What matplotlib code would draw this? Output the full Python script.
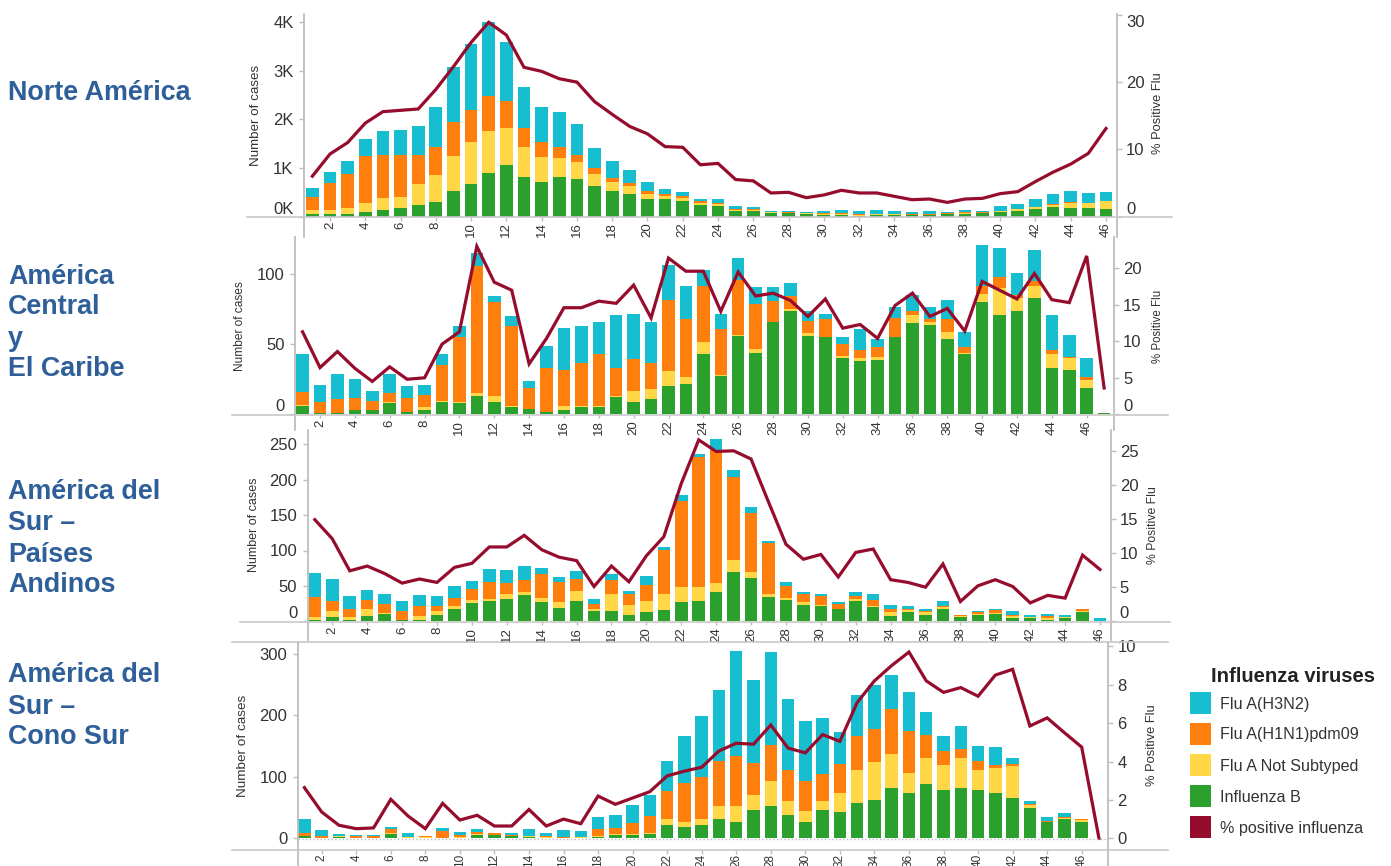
import matplotlib
matplotlib.use("Agg")
import matplotlib.pyplot as plt
import numpy as np
from matplotlib.lines import Line2D
from matplotlib.patches import Rectangle

plt.rcParams["font.family"] = ["Liberation Sans", "DejaVu Sans"]

W, H = 1391, 866

H3N2 = "#17becf"
H1N1 = "#ff7f0e"
NOT_SUB = "#ffd747"
FLU_B = "#2ca02c"
PCT = "#960c2c"
HEAD = "#2f5f98"
GRAY = "#bdbdbd"
TEXT = "#333333"

# values are read as the top of each stacked segment (cumulative from the bottom)
na_b = [.05, .05, .05, .09, .14, .18, .24, .29, .52, .67, .90, 1.05, .82, .72, .82, .77, .63, .53, .46, .36, .35, .31, .24, .21,
        .12, .12, .08, .07, .06, .03, .04, .02, .03, .04, .03, .03, .05, .05, .07, .09, .12, .16, .19, .17, .18, .16]
na_ns = [.13, .13, .17, .27, .38, .41, .67, .85, 1.25, 1.54, 1.76, 1.83, 1.43, 1.22, 1.20, 1.12, .88, .70, .63, .46, .42, .38, .28, .25,
         .13, .14, .09, .08, .07, .05, .06, .03, .05, .05, .04, .04, .06, .07, .08, .11, .15, .19, .23, .27, .27, .31]
na_h1 = [.41, .68, .88, 1.25, 1.26, 1.27, 1.27, 1.44, 1.94, 2.20, 2.48, 2.38, 1.82, 1.54, 1.44, 1.27, 1.00, .79, .68, .52, .46, .42, .31, .28,
         .15, .16, .10, .09, .08, .07, .07, .05, .06, .06, .06, .06, .07, .09, .09, .12, .16, .20, .25, .29, .28, .32]
na_h3 = [.58, .91, 1.15, 1.59, 1.75, 1.78, 1.86, 2.26, 3.07, 3.54, 4.00, 3.60, 2.67, 2.26, 2.14, 1.91, 1.40, 1.15, .95, .72, .56, .51, .36, .35,
         .22, .19, .11, .11, .10, .11, .13, .11, .13, .11, .10, .11, .09, .13, .11, .21, .25, .36, .47, .53, .49, .50]
na_pct = [6.0, 9.3, 11.0, 13.9, 15.6, 15.8, 16.0, 18.9, 22.3, 25.9, 28.9, 27.0, 22.2, 21.6, 20.5, 20.0, 17.1, 15.2, 13.4, 12.3, 10.4, 10.3, 7.7, 7.9,
          5.5, 5.3, 3.5, 3.6, 2.8, 3.2, 3.9, 3.5, 3.5, 3.0, 2.5, 2.6, 2.1, 2.6, 2.7, 3.4, 3.7, 5.2, 6.6, 7.8, 9.4, 13.1]

ca_b = [6, 1, 1, 3, 3, 8, 1.5, 3, 9, 8, 13, 9, 5, 3.5, 1.5, 3, 5, 5.5, 12.4, 9, 10.7, 20, 22, 43,
        27.6, 56, 44, 66, 74, 56, 55, 40, 38, 39, 55, 65, 64, 54, 43, 80, 71, 74, 83, 33, 32, 19, 1]
ca_ns = [7, 1, 1, 3, 3, 9, 2, 5, 9.5, 9, 15, 13, 6, 4, 2, 6, 6, 6, 13, 17, 18, 31, 27, 52,
         28, 57, 47, 66, 75, 58, 55, 42, 40, 41, 55, 71, 66, 59, 44, 86, 90, 83, 92, 43, 40.5, 24.5, 1]
ca_h1 = [16, 9, 11, 12, 9.5, 15, 12, 14, 35, 55, 106, 80, 63, 19, 33, 32, 37, 43, 33, 39.5, 37, 82, 68, 92,
         61, 96, 79, 81, 84.5, 67, 68, 50, 46, 48, 69, 74, 68, 68, 48, 92, 98, 85, 95, 46, 41, 27, 1]
ca_h3 = [43, 21, 29, 25, 17, 29, 20, 21, 43, 63, 115, 84.5, 70, 24, 49, 62, 63, 66, 71, 72, 66, 107, 92, 103,
         72, 112, 91, 91, 94, 74, 72, 55, 61, 54, 77, 85, 77, 82, 59, 121, 119, 101, 117, 71, 57, 40, 1.2]
ca_pct = [11.3, 6.4, 8.6, 6.3, 4.5, 6.5, 4.8, 5.0, 9.6, 11.3, 23, 18.1, 17, 6.9, 10.4, 14.6, 14.6, 15.5, 15.2, 17.7, 13.2, 21.4, 19.6, 19.6,
          14.1, 19.5, 16.2, 16.6, 15.6, 13.4, 15.8, 11.8, 12.3, 10.4, 14.9, 16.6, 13.4, 14.5, 11.4, 18.2, 17, 15.8, 19.3, 15.7, 15.3, 21.7, 3.6]

an_b = [2, 6, 2, 7, 11, 1.5, 2, 8.5, 18, 26, 29, 31.5, 37, 27, 19, 28, 15, 15, 9.4, 13, 16, 27, 29, 42,
        70, 61, 35, 30, 23.5, 21.7, 17, 28, 20, 7, 13, 9.4, 18, 6.6, 9.4, 11, 5, 5, 2, 5, 13.7, .5]
an_ns = [6, 14, 6, 17, 12, 2, 8, 14, 21, 30, 32, 38, 42, 33, 27, 43, 18, 39, 23, 29, 39, 49, 49, 54,
         86, 70, 38, 33, 27, 23, 18, 31.5, 21.7, 13, 16, 13, 20.7, 8, 11, 12, 7, 6, 4.2, 6, 15, .5]
an_h1 = [34, 29, 18, 30, 24, 14, 22, 22, 33, 45, 56, 54, 59, 67, 56, 60, 25, 58, 38, 51, 101, 170, 232, 242,
         204, 153, 110, 50, 38, 36, 25, 36, 30, 17, 17.4, 14.6, 22, 9, 13, 16, 9, 6, 7, 6, 17, .5]
an_h3 = [68, 60, 36, 44, 39, 29, 37, 36, 50, 57, 74, 73, 78, 75, 63, 71, 32, 67, 43, 64, 105, 178, 237, 258,
         213, 162, 113, 56, 41, 38, 27, 41, 38, 22.6, 21.7, 17, 28, 9.4, 14.6, 18, 14.6, 9.4, 10, 9.4, 18, 4]
an_pct = [14.9, 12.1, 7.4, 8.1, 7.0, 5.6, 6.2, 5.7, 7.9, 8.5, 10.9, 10.9, 12.6, 10.5, 9.4, 8.9, 5.1, 8.1, 5.8, 9.6, 12.4, 20.2, 26.6, 24.9,
          25, 23.8, 17.5, 11.3, 9.1, 9.8, 6.5, 10.1, 10.6, 6.1, 5.7, 5, 8.4, 2.9, 5.2, 6.1, 5.1, 2.7, 3.8, 3.4, 9.7, 7.6]

cs_b = [3, 1, 2, 0, 0, 6.5, 1, 0, .5, .5, 5, 5, 3, 2, 1, .5, 1, 2, 5, 5, 7, 22, 19, 22,
        31, 27, 46, 53, 38, 26, 46, 43, 58, 63, 82, 74, 89, 79, 82, 79, 74, 66, 50, 26, 32, 27, 0]
cs_ns = [4, 1, 3, .5, 1, 8, 1.5, 2, 1, 2, 7, 6, 4, 3, 1.5, .5, 1.5, 4, 6.5, 7, 9, 31, 27, 32,
         52, 53, 70, 93, 60, 45, 60, 73, 112, 124, 137, 106, 130, 120, 131, 112, 114, 118, 54, 27, 33, 30, 0]
cs_h1 = [9, 4, 4, 3, 3, 15, 2, 3, 12, 5, 10, 8.7, 5, 4, 3, 1.5, 2, 15, 16, 25.5, 36, 77, 90, 100,
         126, 134, 122, 152, 112, 93, 104, 121, 166, 178, 211, 174, 168, 142, 145, 126, 119, 121, 56, 28, 34, 31.5, 0]
cs_h3 = [32, 14, 7, 5.5, 5.5, 18.5, 9, 4, 16, 10, 14.7, 9, 9, 15, 9, 13.5, 12, 34, 38, 54, 71, 126, 167, 199,
         242, 305, 258, 304, 227, 191, 196, 173, 233, 250, 266, 239, 206, 166, 183, 151, 148, 130, 60, 34, 41, 31.5, .5]
cs_pct = [2.64, 1.37, .68, .5, .54, 2.03, 1.16, .5, 1.82, .95, 1.2, .64, .64, 1.5, .64, 1.0, .76, 2.2, 1.77, 2.1, 2.43, 3.25, 3.5, 3.7,
          4.55, 4.95, 4.9, 5.9, 4.7, 4.45, 5.4, 5.05, 7.07, 8.2, 9, 9.7, 8.2, 7.6, 7.85, 7.4, 8.5, 8.8, 5.85, 6.27, 5.5, 4.75, 0]

fig = plt.figure(figsize=(W / 100, H / 100), dpi=100)


def px_text(x, y, s, **kw):
    return fig.text(x / W, 1 - y / H, s, **kw)


def px_line(x0, x1, y, **kw):
    fig.add_artist(Line2D([x0 / W, x1 / W], [1 - y / H, 1 - y / H], transform=fig.transFigure, **kw))


def draw_panel(series, pct, panel):
    left, right, top, bottom = panel["box"]
    ax = fig.add_axes([left / W, 1 - bottom / H, (right - left) / W, (bottom - top) / H])
    ax.patch.set_alpha(0)

    x = np.arange(1, len(pct) + 1)
    prev = np.zeros(len(pct))
    for tops, color in zip(series, [FLU_B, NOT_SUB, H1N1, H3N2]):
        tops = np.array(tops, dtype=float)
        ax.bar(x, tops - prev, bottom=prev, width=0.72, color=color, linewidth=0)
        prev = tops

    base = panel["base"]
    px_week = (panel["wk46"] - panel["wk2"]) / 44
    wk1 = panel["wk2"] - px_week
    ax.set_xlim(1 + (left - wk1) / px_week, 1 + (right - wk1) / px_week)
    ax.set_ylim((base - bottom) / panel["ypx"], (base - top) / panel["ypx"])

    ax.set_yticks(panel["yticks"], panel["ylabels"])
    ax.set_xticks(np.arange(2, 47, 2))
    ax.tick_params(axis="y", length=3.5, width=1, color=GRAY, labelcolor=TEXT, labelsize=12, pad=4)
    ax.tick_params(axis="x", length=3, width=1, color=GRAY, labelcolor=TEXT, labelsize=panel.get("xsize", 9.5),
                   pad=panel.get("xpad", 1), labelrotation=90)
    ax.spines["bottom"].set_position(("data", (base - panel["xaxis"]) / panel["ypx"]))
    ax.spines["bottom"].set_visible(False)
    ax.spines["top"].set_visible(False)
    ax.spines["right"].set_visible(False)
    ax.spines["left"].set_color(GRAY)
    ax.spines["left"].set_linewidth(1.3)

    ax2 = ax.twinx()
    ax2.patch.set_alpha(0)
    ax2.plot(x, pct, color=PCT, linewidth=2.3, solid_joinstyle="miter")
    ax2.set_ylim((base - bottom) / panel["rpx"], (base - top) / panel["rpx"])
    ax2.set_yticks(panel["rticks"])
    ax2.tick_params(axis="y", length=3.5, width=1, color=GRAY, labelcolor=TEXT, labelsize=12, pad=3)
    for name in ["top", "bottom", "left"]:
        ax2.spines[name].set_visible(False)
    ax2.spines["right"].set_color(GRAY)
    ax2.spines["right"].set_linewidth(1.3)

    # lowest labels sit above the baseline, except in the last panel
    if panel["lift_zero"]:
        ax.get_yticklabels()[0].set_va("bottom")
        ax2.get_yticklabels()[0].set_va("bottom")
    if panel.get("drop_top"):
        ax2.get_yticklabels()[-1].set_va("top")

    lx, ly, lsize = panel["ylab"]
    px_text(lx, ly, "Number of cases", rotation=90, ha="center", va="center", color=TEXT, fontsize=lsize)
    rx, ry, rsize = panel["rlab"]
    px_text(rx, ry, "% Positive Flu", rotation=90, ha="center", va="center", color=TEXT, fontsize=rsize)


panels = [
    dict(box=(304, 1117, 14, 237), base=216.5, wk2=330, wk46=1106, xaxis=216.5, ypx=48.6, rpx=6.72,
         yticks=[0, 1, 2, 3, 4], ylabels=["0K", "1K", "2K", "3K", "4K"], rticks=[0, 10, 20, 30],
         ylab=(256, 115, 9.6), rlab=(1158, 113, 9.3), lift_zero=True, drop_top=True),
    dict(box=(295, 1114, 237, 430), base=414.3, wk2=320, wk46=1086.7, xaxis=414.3, ypx=1.4, rpx=7.3,
         yticks=[0, 50, 100], ylabels=["0", "50", "100"], rticks=[0, 5, 10, 15, 20],
         ylab=(240, 326, 8.6), rlab=(1158, 326, 8.3), lift_zero=True),
    dict(box=(307.7, 1110.7, 430, 640), base=621.3, wk2=332.3, wk46=1100, xaxis=621.3, ypx=0.708, rpx=6.82,
         yticks=[0, 50, 100, 150, 200, 250], ylabels=["0", "50", "100", "150", "200", "250"], rticks=[0, 5, 10, 15, 20, 25],
         ylab=(254, 525, 9), rlab=(1153, 525, 8.8), lift_zero=True),
    dict(box=(297.7, 1108.3, 642, 866), base=838.3, wk2=321.7, wk46=1081.7, xaxis=850, ypx=0.614, rpx=19.2,
         yticks=[0, 100, 200, 300], ylabels=["0", "100", "200", "300"], rticks=[0, 2, 4, 6, 8, 10],
         ylab=(243, 746, 9.7), rlab=(1152, 745, 9.3), lift_zero=False, xsize=8.5, xpad=0),
]

draw_panel([na_b, na_ns, na_h1, na_h3], na_pct, panels[0])
draw_panel([ca_b, ca_ns, ca_h1, ca_h3], ca_pct, panels[1])
draw_panel([an_b, an_ns, an_h1, an_h3], an_pct, panels[2])
draw_panel([cs_b, cs_ns, cs_h1, cs_h3], cs_pct, panels[3])

# axis rules that run past the plot boxes
px_line(247, 1172, 216.8, color="#c8c8c8", linewidth=1.2)
px_line(232, 1168, 414.6, color="#c8c8c8", linewidth=1.2)
px_line(240, 1170, 621.6, color="#c8c8c8", linewidth=1.2)
px_line(232, 1168, 642, color="#c8c8c8", linewidth=1.2)
px_line(232, 1168, 850, color="#c8c8c8", linewidth=1.2)
px_line(298, 1108, 838.6, color="#bbbbbb", linewidth=1, linestyle=":")

# region names
region_lines = [
    (93.5, "Norte América"),
    (277.5, "América"), (307.5, "Central"), (339.5, "y"), (369.5, "El Caribe"),
    (492.5, "América del"), (523.5, "Sur –"), (554.5, "Países"), (584.5, "Andinos"),
    (675.5, "América del"), (706.5, "Sur –"), (737.5, "Cono Sur"),
]
for y, line in region_lines:
    px_text(8, y, line, ha="left", va="center", color=HEAD, fontsize=19.4, fontweight="bold")

# legend
legend_names = ["Flu A(H3N2)", "Flu A(H1N1)pdm09", "Flu A Not Subtyped", "Influenza B", "% positive influenza"]
legend_colors = [H3N2, H1N1, NOT_SUB, FLU_B, PCT]
legend_y = [703, 734, 765, 796, 827]
px_text(1211, 676, "Influenza viruses", ha="left", va="center", color="#222222", fontsize=14.6, fontweight="bold")
for y, name, color in zip(legend_y, legend_names, legend_colors):
    fig.add_artist(Rectangle((1190 / W, 1 - (y + 11) / H), 21 / W, 22 / H, transform=fig.transFigure,
                             facecolor=color, edgecolor="none"))
    px_text(1220, y + 1, name, ha="left", va="center", color=TEXT, fontsize=11.6)

fig.savefig("out.png", dpi=100)
